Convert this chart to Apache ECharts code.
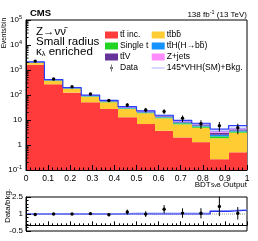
<!DOCTYPE html>
<html><head><meta charset="utf-8">
<script src="https://cdn.jsdelivr.net/npm/echarts@6/dist/echarts.min.js"></script>
<style>html,body{margin:0;padding:0;background:#fff}#c{width:258px;height:241px}</style>
</head><body><div id="c"></div>
<script>
const binEdges = [0, 0.0833, 0.1667, 0.25, 0.3333, 0.4167, 0.5, 0.5833, 0.6667, 0.75, 0.8333, 0.9167, 1.0];
const ttInc   = [1620, 268, 124, 51, 27.5, 12.9, 6.9, 3.7, 2.0, 1.3, 0.27, 0.51];
const ttbb    = [330, 104, 56, 34, 23.5, 14.6, 11.6, 8.0, 4.7, 3.6, 1.6, 2.6];
const singleT = [50, 12, 5, 3.5, 2.5, 1.5, 1.1, 0.9, 0.7, 0.6, 0.35, 0.35];
const ttH     = [35, 9, 4, 3, 2, 1.2, 0.9, 0.7, 0.6, 0.5, 0.35, 0.35];
const ttV     = [40, 11, 5, 3, 2.5, 1.5, 1.2, 0.9, 0.7, 0.6, 0.5, 0.4];
const zJets   = [25, 8, 4, 2.5, 2, 1.3, 1.0, 0.8, 0.6, 0.5, 0.5, 0.4];
const bkgUnc  = [0.03, 0.03, 0.03, 0.04, 0.04, 0.05, 0.05, 0.06, 0.06, 0.07, 0.08, 0.08];
const sigPlusBkg = [2110, 414, 199, 98, 61, 34, 23.3, 15.5, 9.7, 7.4, 4.35, 6.0];
const dataVals = [2270, 435, 215, 110, 60, 40, 25, 22, 11.7, 7.1, 5.9, 4.9];
const dataErr  = [48, 21, 15, 10.5, 7.7, 6.3, 5, 4.7, 3.4, 2.7, 2.4, 2.2];
const ratioVals = [0.96, 1.0, 1.0, 1.03, 0.94, 1.17, 0.99, 1.42, 1.08, 1.06, 1.67, 1.06];
const ratioErr  = [0.03, 0.05, 0.07, 0.1, 0.13, 0.22, 0.25, 0.36, 0.42, 0.45, 0.86, 0.55];
const ratioSig  = [1, 1, 1, 1, 1, 1, 1, 1, 1, 1, 1.24, 1.33];
const ratioBand = [1, 1, 1, 1, 1, 1.08, 1.08, 1.08, 1.08, 1.08, 1.3, 1.38];
const xTickLabels = ['0','0.1','0.2','0.3','0.4','0.5','0.6','0.7','0.8','0.9','1'];
const yTickLabels = {'-1':'10{s|-1}','0':'1','1':'10','2':'10{s|2}','3':'10{s|3}','4':'10{s|4}','5':'10{s|5}'};
const ratioTickLabels = {'-0.5':'-0.5','1':'1','2.5':'2.5'};

const FONT = '"Liberation Sans", Arial, sans-serif';
const components = [
  {name:'tt\u0304 inc.', vals: ttInc, color:'#ff3b3b'},
  {name:'tt\u0304bb\u0304', vals: ttbb, color:'#ffcc33'},
  {name:'Single t', vals: singleT, color:'#22d422'},
  {name:'tt\u0304H(H\u2192bb\u0304)', vals: ttH, color:'#1493ff'},
  {name:'tt\u0304V', vals: ttV, color:'#663399'},
  {name:'Z+jets', vals: zJets, color:'#ff8cff'}
];

const YMIN = 0.1;
const cum = binEdges.slice(0,-1).map(()=>YMIN);
const total = ttInc.map((v,i)=>ttInc[i]+ttbb[i]+singleT[i]+ttH[i]+ttV[i]+zJets[i]);

function rectItem(params, api, color) {
  const p0 = api.coord([api.value(0), api.value(3)]);
  const p1 = api.coord([api.value(1), api.value(2)]);
  const x0 = Math.round(p0[0]), x1 = Math.round(p1[0]);
  return {type:'rect', shape:{x:x0, y:p0[1], width:x1-x0, height:p1[1]-p0[1]}, style:{fill:color}};
}

const series = [];
components.forEach(c => {
  const data = c.vals.map((v,i)=>{ const lo = cum[i]; const hi = (lo===YMIN ? v : lo+v); cum[i] = hi; return [binEdges[i], binEdges[i+1], lo, hi]; });
  series.push({type:'custom', name:c.name, xAxisIndex:0, yAxisIndex:0, itemStyle:{color:c.color},
    encode:{x:[0,1], y:[2,3]}, data, z:2,
    renderItem:(p,a)=>rectItem(p,a,c.color)});
});
series.push({type:'custom', name:'unc', xAxisIndex:0, yAxisIndex:0, z:3, silent:true,
  data: total.map((t,i)=>[binEdges[i], binEdges[i+1], t*(1-bkgUnc[i]), t*(1+bkgUnc[i])]),
  encode:{x:[0,1], y:[2,3]},
  renderItem:(p,a)=>rectItem(p,a,'rgba(130,140,255,0.6)')});
function stepData(vals){ const d = vals.map((v,i)=>[binEdges[i], v]); d.push([1, vals[vals.length-1]]); return d; }
series.push({type:'line', name:'145*VHH(SM)+Bkg.', xAxisIndex:0, yAxisIndex:0, step:'end', showSymbol:false, z:4,
  data: stepData(sigPlusBkg), lineStyle:{color:'#2a3cff', width:1.2}, itemStyle:{color:'#9999ff'}});
function pointRender(params, api){
  const x = (api.value(0)+api.value(1))/2;
  const c = api.coord([x, api.value(2)]);
  const lo = api.coord([x, Math.max(api.value(2)-api.value(3), 1e-3)]);
  const hi = api.coord([x, api.value(2)+api.value(3)]);
  return {type:'group', children:[
    {type:'line', shape:{x1:c[0], y1:lo[1], x2:c[0], y2:hi[1]}, style:{stroke:'#000', lineWidth:1}},
    {type:'circle', shape:{cx:c[0], cy:c[1], r:1.7}, style:{fill:'#000'}}
  ]};
}
series.push({type:'custom', name:'Data', xAxisIndex:0, yAxisIndex:0, z:6, itemStyle:{color:'#000'},
  data: dataVals.map((v,i)=>[binEdges[i], binEdges[i+1], v, dataErr[i]]), encode:{x:[0,1], y:2},
  renderItem: pointRender});
const minorVals = [];
for (let k=-1;k<5;k++) for (let m=2;m<10;m++) minorVals.push(m*Math.pow(10,k));
series.push({type:'custom', name:'minor', xAxisIndex:0, yAxisIndex:0, z:8, silent:true,
  data: minorVals.map(v=>[0, v]), encode:{x:0, y:1},
  renderItem:(p,a)=>{const c=a.coord([0,a.value(1)]); return {type:'line', shape:{x1:c[0], y1:c[1], x2:c[0]+2.5, y2:c[1]}, style:{stroke:'#000', lineWidth:1}};}});

series.push({type:'line', name:'r1', xAxisIndex:1, yAxisIndex:1, showSymbol:false, silent:true, z:2,
  data:[[0,1],[1,1]], lineStyle:{color:'#999', width:1, type:'dotted'}});
series.push({type:'line', name:'rband', xAxisIndex:1, yAxisIndex:1, step:'end', showSymbol:false, silent:true, z:3,
  data: stepData(ratioBand), lineStyle:{color:'#aab0ff', width:1.2}});
series.push({type:'line', name:'rsig', xAxisIndex:1, yAxisIndex:1, step:'end', showSymbol:false, silent:true, z:4,
  data: stepData(ratioSig), lineStyle:{color:'#2030ee', width:1.2}});
series.push({type:'custom', name:'rdata', xAxisIndex:1, yAxisIndex:1, z:6, silent:true,
  data: ratioVals.map((v,i)=>[binEdges[i], binEdges[i+1], v, ratioErr[i]]), encode:{x:[0,1], y:2},
  renderItem: pointRender});

const axLine = {show:true, lineStyle:{color:'#000', width:1}};
const tick = {show:true, inside:true, length:5, lineStyle:{color:'#000'}};
const T = (x, y, text, size, extra) => ({type:'text', x, y, style:Object.assign({text, fontSize:size, fontFamily:FONT, fill:'#000', align:'left', verticalAlign:'middle'}, extra||{})});
const option = {
  animation:false,
  textStyle:{fontFamily:FONT},
  grid:[
    {left:26, right:11, top:20, bottom:71, show:true, borderColor:'#000', borderWidth:1, backgroundColor:'transparent'},
    {left:26, right:11, top:197, bottom:10, show:true, borderColor:'#000', borderWidth:1, backgroundColor:'transparent'}
  ],
  xAxis:[
    {type:'value', gridIndex:0, min:0, max:1, interval:0.1, z:10, axisLine:axLine, axisTick:tick,
     minorTick:{show:true, splitNumber:5, length:2.5, lineStyle:{color:'#000'}}, splitLine:{show:false},
     axisLabel:{fontSize:8.5, color:'#000', fontFamily:FONT, margin:4, formatter:(v)=>xTickLabels[Math.round(v*10)]}},
    {type:'value', gridIndex:1, min:0, max:1, interval:0.1, z:10, axisLine:axLine, axisTick:{...tick, length:4},
     minorTick:{show:true, splitNumber:5, length:2, lineStyle:{color:'#000'}}, splitLine:{show:false},
     axisLabel:{show:false}}
  ],
  yAxis:[
    {type:'log', gridIndex:0, logBase:10, min:0.1, max:100000, interval:1, z:10, axisLine:axLine, axisTick:tick,
     splitLine:{show:false},
     axisLabel:{fontSize:8, color:'#000', fontFamily:FONT, margin:4,
       formatter:(v)=>yTickLabels[String(Math.round(Math.log10(v)))],
       rich:{s:{fontSize:5.5, fontFamily:FONT, padding:[0,0,5,0]}}}},
    {type:'value', gridIndex:1, min:-0.5, max:2.5, interval:1.5, z:10, axisLine:axLine, axisTick:tick,
     minorTick:{show:true, splitNumber:5, length:2.5, lineStyle:{color:'#000'}}, splitLine:{show:false},
     axisLabel:{fontSize:8, color:'#000', fontFamily:FONT, margin:3,
       formatter:(v)=>ratioTickLabels[String(Math.round(v*10)/10)] || ''}}
  ],
  legend:[
    {left:100, top:24.5, orient:'vertical', itemWidth:13, itemHeight:7, itemGap:0, selectedMode:false,
     textStyle:{fontSize:8.5, fontFamily:FONT, color:'#000', lineHeight:11, padding:[0,0,0,-3]},
     data:[{name:components[0].name, icon:'rect'},{name:'Single t', icon:'rect'},{name:components[4].name, icon:'rect'},
       {name:'Data', icon:'path://M4.6,0 H5.4 V10 H4.6 Z M5,3.2 A1.8,1.8 0 1 0 5,6.8 A1.8,1.8 0 1 0 5,3.2 Z'}]},
    {left:146.7, top:24.5, orient:'vertical', itemWidth:13, itemHeight:7, itemGap:0, selectedMode:false,
     textStyle:{fontSize:8.5, fontFamily:FONT, color:'#000', lineHeight:11, padding:[0,0,0,-3]},
     data:[{name:components[1].name, icon:'rect'},{name:components[3].name, icon:'rect'},{name:'Z+jets', icon:'rect'},
       {name:'145*VHH(SM)+Bkg.', icon:'path://M0,4.4 H20 V5.6 H0 Z', itemStyle:{color:'#9999ff'}}]}
  ],
  title:[
    {text:'138 fb{s|-1} (13 TeV)', right:11, top:9, padding:0, textStyle:{fontFamily:FONT, fontWeight:'normal', fontSize:8, color:'#000',
      rich:{s:{fontSize:5.5, fontFamily:FONT, padding:[0,0,5,0]}}}},
    {text:'BDT{s|SvB} Output', right:11, top:181, padding:0, textStyle:{fontFamily:FONT, fontWeight:'normal', fontSize:8, color:'#000',
      rich:{s:{fontSize:5.5, fontFamily:FONT}}}}
  ],
  graphic:[
    T(30, 13.5, 'CMS', 9.5, {fontWeight:'bold'}),
    T(36, 31.5, 'Z\u2192\u03bd\u03bd\u0304', 11.5),
    T(36, 41.5, 'Small radius', 11.5),
    T(36, 51.5, '{n|\u03ba}{l|\u03bb}{n| enriched}', 11.5, {rich:{n:{fontSize:11.5, fontFamily:FONT}, l:{fontSize:7.5, fontFamily:FONT, padding:[4,0,0,0]}}}),
    {type:'text', x:4, y:18, rotation:Math.PI/2, style:{text:'Events/bin', fontSize:6.5, fontFamily:FONT, fill:'#000', align:'right', verticalAlign:'middle'}},
    {type:'text', x:7.5, y:206, rotation:Math.PI/2, style:{text:'Data/bkg.', fontSize:8, fontFamily:FONT, fill:'#000', align:'center', verticalAlign:'middle'}}
  ],
  series
};
const chart = echarts.init(document.getElementById('c'), null, {renderer:'canvas'});
chart.setOption(option);
</script></body></html>
